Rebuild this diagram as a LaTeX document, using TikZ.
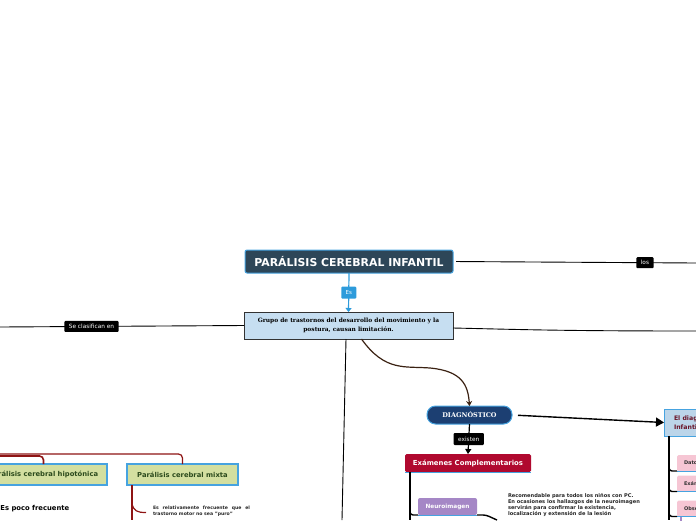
\documentclass[tikz,border=0pt]{standalone}
\usepackage{fontspec}
\setmainfont{DejaVu Sans}
\newfontfamily\seriff{DejaVu Serif}
\usetikzlibrary{arrows.meta}
\newcommand\fsz[2]{\fontsize{#1}{#2}\selectfont}
\definecolor{titlefill}{HTML}{2D4658}
\definecolor{skyb}{HTML}{46A3E0}
\definecolor{deffill}{HTML}{C6DEF1}
\definecolor{navyb}{HTML}{1C3F72}
\definecolor{crimsonb}{HTML}{B0092F}
\definecolor{lilac}{HTML}{A587C6}
\definecolor{khaki}{HTML}{D3DFA0}
\definecolor{dgreen}{HTML}{2B4A1C}
\definecolor{pinkb}{HTML}{F6C6D4}
\definecolor{dred}{HTML}{8E1414}
\definecolor{brownc}{HTML}{3A2112}
\definecolor{maroonb}{HTML}{6A1428}
\definecolor{esblue}{HTML}{2D9BDB}
\definecolor{rboxfill}{HTML}{BCD5E9}
\begin{document}
\begin{tikzpicture}[x=1pt,y=-1pt,
  every node/.style={inner sep=0pt, outer sep=0pt},
  lbl/.style={fill=black, text=white, font=\fsz{5.8}{6}, rounded corners=1pt, inner xsep=4.5pt, minimum height=11pt},
  conn/.style={line width=0.9pt, black},
  thick conn/.style={line width=1.7pt, black},
  tree/.style={line width=1.4pt, dred},
  smalltext/.style={font=\bfseries\fsz{5.1}{5.9}, text=black!85, align=left},
  khakibox/.style={fill=khaki, draw=skyb, line width=1.1pt, text=dgreen, font=\bfseries\fsz{6.8}{8}, minimum height=21pt},
  pinkbox/.style={fill=pinkb, rounded corners=1.5pt, minimum height=16pt, text width=60pt, text=black!80, font=\bfseries\fsz{5}{6}, inner xsep=7pt, align=left}
]
\useasboundingbox (0,0) rectangle (696,520);

% main nodes
\node[fill=titlefill, draw=skyb, line width=1pt, rounded corners=2pt, minimum width=208pt, minimum height=23pt,
      text=white, font=\bfseries\fsz{10.9}{12}] (title) at (349,261.5) {PARÁLISIS CEREBRAL INFANTIL};
\node[fill=deffill, draw=black!80, line width=0.8pt, minimum width=209pt, minimum height=27pt,
      align=center, font=\seriff\bfseries\fsz{5.9}{9}] (def) at (348.5,325.5)
      {Grupo de trastornos del desarrollo del movimiento y la\\postura, causan limitación.};
\draw[esblue, line width=1.2pt, -{Triangle[width=6pt,length=4pt]}] (title.south) -- node[fill=esblue, text=white, rounded corners=1pt, minimum width=15pt, minimum height=12pt, font=\fsz{5.5}{6}] {Es} (def.north);

% free ends
\coordinate (r1) at (696,263);
\coordinate (r2) at (696,331);
\coordinate (l1) at (0,327);
\coordinate (d1) at (342,520);

\draw[conn, shorten <=3pt] (title.east) -- node[lbl, pos=0.79] {los} (r1);
\draw[conn] ([yshift=-2.5pt]def.east) .. controls (520,329.5) and (560,331) .. (r2);
\draw[conn] (def.west) -- node[lbl, pos=0.625] {Se clasifican en} (l1);
\draw[conn] ([xshift=-2.5pt]def.south) -- (d1);

% diagnostico
\node[fill=navyb, draw=skyb, line width=1pt, rounded corners=8.5pt, minimum width=85pt, minimum height=18pt,
      text=white, font=\seriff\bfseries\fsz{6.5}{8}] (diag) at (469.5,415) {DIAGNÓSTICO};
\draw[brownc, line width=1.2pt, -{Stealth[width=6pt,length=5pt]}] ([xshift=13pt]def.south)
   .. controls (385,372) and (405,366) .. (430,368) .. controls (462,371) and (468,385) .. (diag.north);

% right box
\node[anchor=west, fill=rboxfill, draw=skyb, line width=0.9pt, minimum height=27pt, inner xsep=10pt,
      align=left, text=maroonb, font=\bfseries\fsz{6.2}{9}] (rbox) at (664,422.5) {El diagnóstico\\Infantil};
\draw[line width=1.4pt, -{Triangle[width=9pt,length=8pt]}, shorten <=6pt] (diag.east) -- (rbox.west);
\coordinate (rv) at (669,520);
\draw[thick conn] ([xshift=5pt]rbox.south west) -- (rv);
\node[pinkbox, anchor=north west] (p1) at (677,455) {Datos};
\node[pinkbox, anchor=north west] (p2) at (677,475.5) {Exámenes};
\node[pinkbox, anchor=north west] (p3) at (677,500.5) {Observación};
\foreach \p in {p1,p2,p3}{
  \draw[skyb, line width=0.8pt] (\p.south west) -- (\p.south east);
  \draw[thick conn, line width=1.4pt, rounded corners=3pt] ([yshift=5pt]\p.south west -| rv) -- (\p.south west -| rv) -- (\p.south west);
}
\draw[lilac, line width=1.2pt] ([xshift=4pt]p3.south west) -- ++(0,5);

% examenes
\node[fill=crimsonb, rounded corners=1.5pt, minimum width=126pt, minimum height=18pt,
      text=white, font=\bfseries\fsz{6.9}{8}] (exam) at (468,463) {Exámenes Complementarios};
\draw[skyb, line width=0.8pt] (exam.south west) -- (exam.south east);
\draw[line width=1.2pt, -{Triangle[width=6pt,length=5pt]}] (diag.south) -- node[lbl, minimum height=12pt] {existen} (exam.north);
\coordinate (ev) at (410,520);
\draw[thick conn] ([xshift=5pt]exam.south west) -- (ev);
\node[fill=lilac, rounded corners=2pt, minimum width=59pt, minimum height=17pt,
      text=white, font=\bfseries\fsz{5.8}{7}] (neuro) at (447.5,506.5) {Neuroimagen};
\draw[skyb, line width=0.8pt] (neuro.south west) -- (neuro.south east);
\draw[thick conn, line width=1.4pt, rounded corners=3pt] ([yshift=6pt]neuro.south west -| ev) -- (neuro.south west -| ev) -- (neuro.south west);
\coordinate (nc) at (497,520);
\draw[thick conn, line width=1.4pt, rounded corners=3pt] (neuro.south east) -- (486,515) -- (nc);
\node[smalltext, anchor=north west] (ntext) at (508,494)
  {Recomendable para todos los niños con PC.\\En ocasiones los hallazgos de la neuroimagen\\servirán para confirmar la existencia,\\localización y extensión de la lesión};

% left tree
\node[khakibox, minimum width=127pt] (hipo) at (43.5,474.5) {Parálisis cerebral hipotónica};
\node[khakibox, minimum width=111pt] (mixta) at (182.5,474.5) {Parálisis cerebral mixta};
\coordinate (lt1) at (0,456);
\coordinate (lt2) at (0,454);
\draw[tree, line width=1.6pt, rounded corners=4pt] (lt1) -- (hipo.north |- lt1) -- (hipo.north);
\draw[tree, line width=1.2pt, rounded corners=4pt] (lt2) -- (mixta.north |- lt2) -- (mixta.north);
\node[anchor=west, font=\bfseries\fsz{6.8}{8}, text=black] (poco) at (0.5,509) {Es poco frecuente};
\coordinate (mv) at (132,520);
\draw[tree] ([xshift=-50.5pt]mixta.south) -- (mv);
\node[anchor=north west, text width=97pt, align=justify, font=\bfseries\fsz{4.6}{6.6}, text=black!85] (mtext) at (153,505.5)
  {Es relativamente frecuente que el trastorno motor no sea "puro"};
\coordinate (mb) at (146,512.5);
\draw[tree, line width=1.2pt] (132,504) .. controls (134,511) and (137,512.5) .. (mb);
\end{tikzpicture}
\end{document}
